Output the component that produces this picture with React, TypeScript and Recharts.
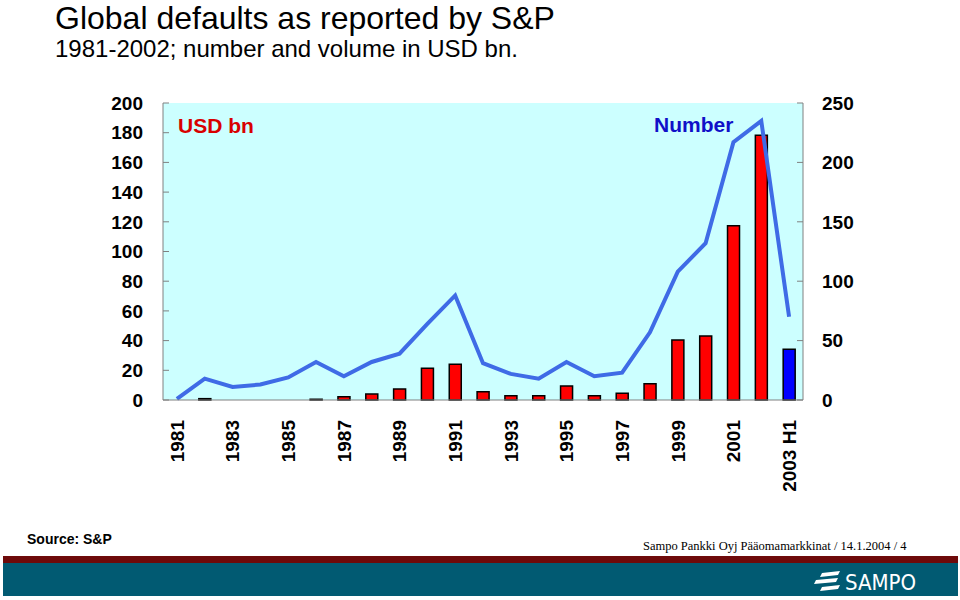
import React from 'react';
import { ComposedChart, Bar, Line, XAxis, YAxis, CartesianGrid, Cell } from 'recharts';

const years = ['1981','1982','1983','1984','1985','1986','1987','1988','1989','1990','1991','1992','1993','1994','1995','1996','1997','1998','1999','2000','2001','2002','2003 H1'];
const volumeUsdBn = [0, 0.9, 0, 0, 0, 0.5, 2.2, 4, 7.4, 21.3, 24, 5.6, 2.9, 2.9, 9.4, 2.9, 4.5, 11, 40.4, 43.1, 117.4, 178.2, 34.1];
const defaultCount = [1, 18, 11, 13, 19, 32, 20, 32, 39, 64, 88, 31, 22, 18, 32, 20, 23, 57, 108, 132, 217, 235, 70];
const leftTicks = [0, 20, 40, 60, 80, 100, 120, 140, 160, 180, 200];
const rightTicks = [0, 50, 100, 150, 200, 250];
const boundaryTicks = [1, 2, 3, 4, 5, 6, 7, 8, 9, 10, 11, 12, 13, 14, 15, 16, 17, 18, 19, 20, 21, 22];

const data = years.map((year, i) => ({ year, volume: volumeUsdBn[i], count: defaultCount[i] }));

const FONT = "'Liberation Sans', Arial, sans-serif";

const XTick = (props: any) => {
  const { x, y, payload } = props;
  return (
    <text
      x={x}
      y={y}
      transform={`rotate(-90 ${x} ${y})`}
      textAnchor="end"
      dy="0.36em"
      fontSize={19}
      fontWeight="bold"
      fill="#000"
      fontFamily={FONT}
    >
      {payload.value}
    </text>
  );
};

export default function App() {
  return (
    <div style={{ position: 'absolute', left: 0, top: 0, width: 960, height: 600, background: '#fff', fontFamily: FONT }}>
      <svg width={960} height={600} style={{ position: 'absolute', left: 0, top: 0 }}>
        <text x={55} y={29} fontSize={32} fill="#000" fontFamily={FONT}>Global defaults as reported by S&amp;P</text>
        <text x={55} y={57} fontSize={24} fill="#000" fontFamily={FONT}>1981-2002; number and volume in USD bn.</text>
        <text x={27} y={544} fontSize={14} fontWeight="bold" fill="#000" fontFamily={FONT}>Source: S&amp;P</text>
        <text x={643} y={550} fontSize={12.5} fill="#000" fontFamily="'Liberation Serif', 'Times New Roman', serif">Sampo Pankki Oyj Pääomamarkkinat /  14.1.2004 /  4</text>
        <rect x={3} y={556} width={955} height={7} fill="#6e0a0a" />
        <rect x={3} y={563} width={955} height={33} fill="#015a72" />
        <g fill="#fff">
          <polygon points="822,573 840,571 838,575 820,577" />
          <polygon points="816,580 838,578 836,582 814,584" />
          <polygon points="822,587 840,585 838,589 820,591" />
        </g>
        <text x={845} y={590} fontSize={22} fill="#fff" fontFamily="'DejaVu Sans Condensed', 'Liberation Sans Narrow', sans-serif">SAMPO</text>
      </svg>
      <div style={{ position: 'absolute', left: 0, top: 0 }}>
        <ComposedChart width={960} height={600} data={data} margin={{ top: 103, left: 103, right: 97, bottom: 90 }} barCategoryGap={0}>
          <CartesianGrid horizontal={false} vertical={false} fill="#ccffff" />
          <XAxis xAxisId="t" orientation="top" dataKey="year" height={0} tick={false} tickLine={false} axisLine={{ stroke: '#808080' }} />
          <XAxis xAxisId="b" type="number" domain={[0, 23]} allowDataOverflow ticks={boundaryTicks} height={0} tick={false} tickSize={-7} tickLine={{ stroke: '#808080' }} axisLine={false} />
          <XAxis xAxisId="main" dataKey="year" height={110} interval={1} tickSize={0} tickMargin={20} tickLine={false} axisLine={{ stroke: '#808080' }} tick={<XTick />} />
          <YAxis yAxisId="left" orientation="left" width={60} domain={[0, 200]} ticks={leftTicks} interval={0} tickSize={-6} tickMargin={26} axisLine={{ stroke: '#808080' }} tickLine={{ stroke: '#808080' }} tick={{ fontSize: 19, fontWeight: 'bold', fill: '#000', fontFamily: FONT }} />
          <YAxis yAxisId="right" orientation="right" width={60} domain={[0, 250]} ticks={rightTicks} interval={0} tickSize={-6} tickMargin={25} axisLine={{ stroke: '#808080' }} tickLine={{ stroke: '#808080' }} tick={{ fontSize: 19, fontWeight: 'bold', fill: '#000', fontFamily: FONT }} />
          <Bar xAxisId="main" yAxisId="left" dataKey="volume" barSize={12} fill="#ff0000" stroke="#000" strokeWidth={1.5} isAnimationActive={false}>
            {data.map((d, i) => (
              <Cell key={d.year} fill={i === data.length - 1 ? '#0000ff' : '#ff0000'} />
            ))}
          </Bar>
          <Line xAxisId="main" yAxisId="right" dataKey="count" type="linear" stroke="#3f6be6" strokeWidth={4} dot={false} activeDot={false} isAnimationActive={false} />
        </ComposedChart>
      </div>
      <svg width={960} height={600} style={{ position: 'absolute', left: 0, top: 0, pointerEvents: 'none' }}>
        <text x={178} y={133} fontSize={21} fontWeight="bold" fill="#d80000" fontFamily={FONT}>USD bn</text>
        <text x={654} y={132} fontSize={21} fontWeight="bold" fill="#1010c8" fontFamily={FONT}>Number</text>
      </svg>
    </div>
  );
}
